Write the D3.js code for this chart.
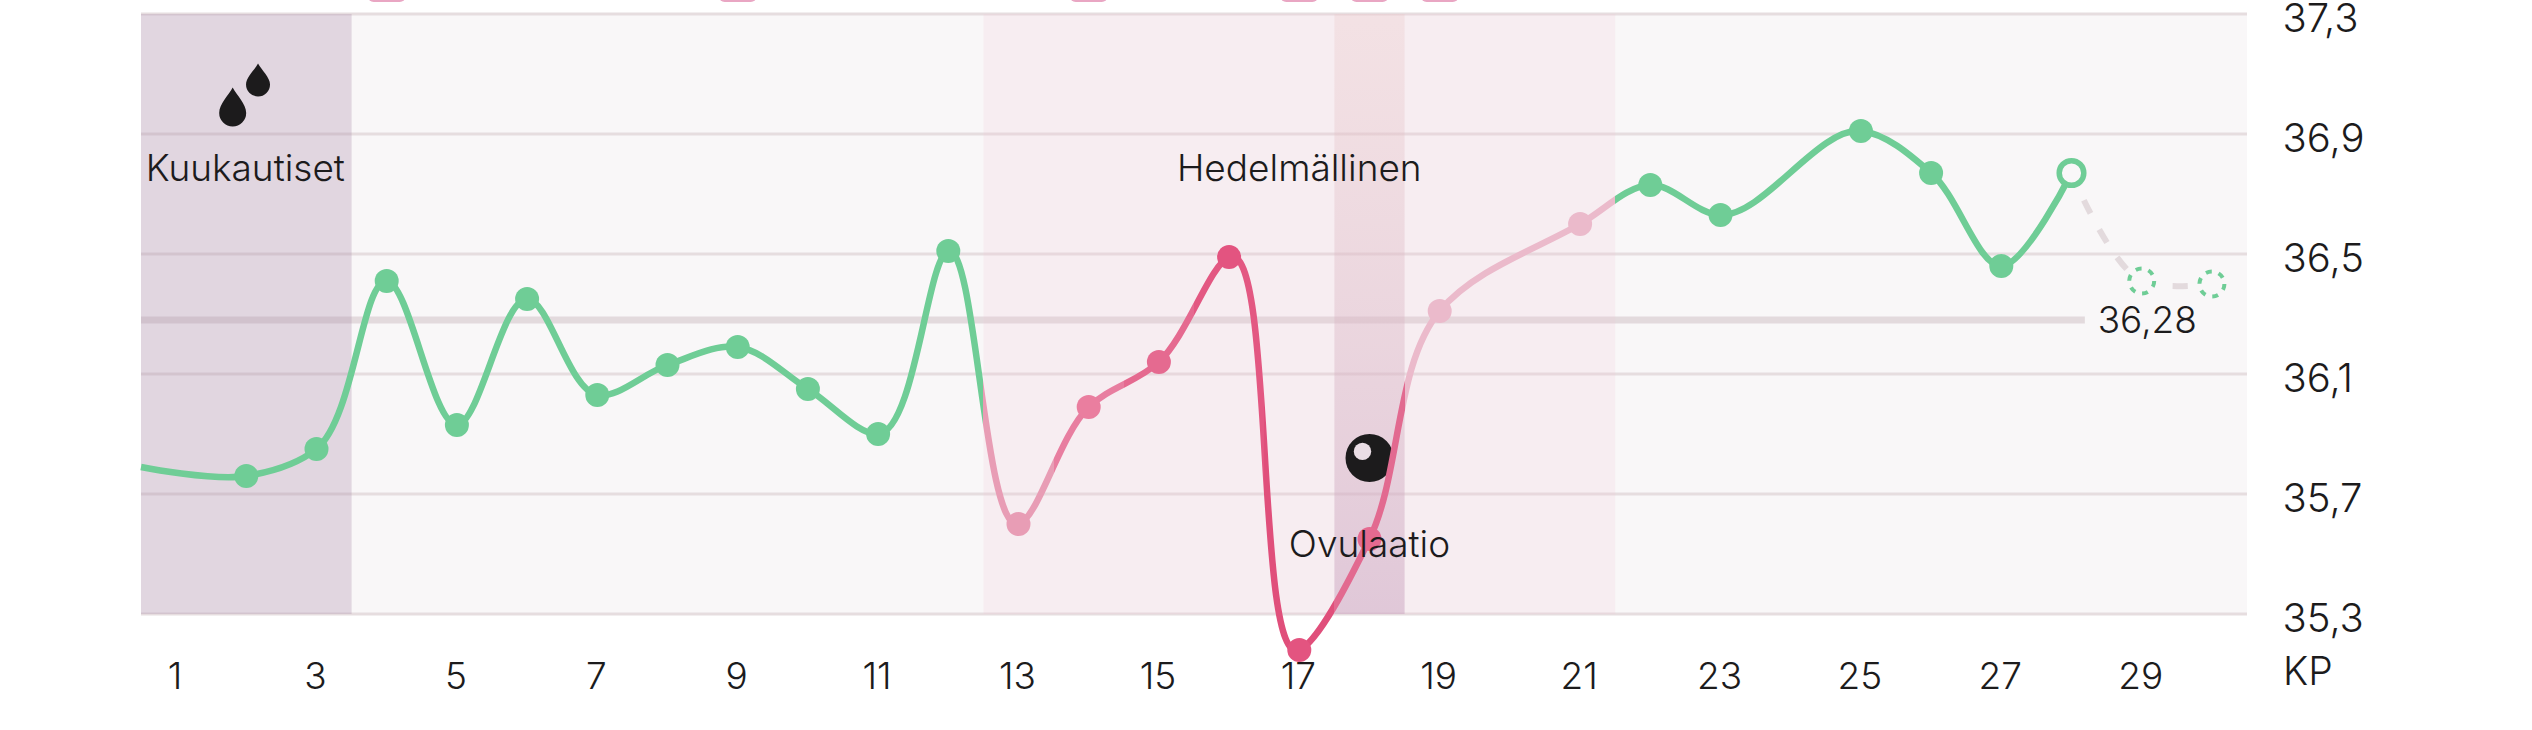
<!DOCTYPE html>
<html lang="fi">
<head>
<meta charset="utf-8">
<title>Peruslämpökäyrä</title>
<script src="https://cdn.jsdelivr.net/npm/d3@7"></script>
<style>
  html, body { margin: 0; background: #fff; }
  svg { display: block; }
  text { font-family: Inter, "Noto Sans", sans-serif; fill: #1c1b1c; font-weight: 300; }
</style>
</head>
<body>
<svg id="chart" width="2532" height="730"></svg>
<script>
// Cycle days with a recorded temperature
const recordedDays = [2, 3, 4, 5, 6, 7, 8, 9, 10, 11, 12, 13, 14, 15, 16, 17, 18, 19, 21, 22, 23, 25, 26, 27, 28];
const recordedTemps = [35.76, 35.85, 36.41, 35.93, 36.35, 36.03, 36.13, 36.19, 36.05, 35.90, 36.51, 35.60, 35.99, 36.14, 36.49, 35.18, 35.55, 36.31, 36.60, 36.73, 36.63, 36.91, 36.77, 36.46, 36.77];
const pointColours = ["g", "g", "g", "g", "g", "g", "g", "g", "g", "g", "g", "p1", "p2", "p3", "p4", "p4", "p3", "p0", "p0", "g", "g", "g", "g", "g", "today"];

// The trace enters the plot from the previous cycle
const entryDay = [0.5];
const entryTemp = [35.79];

// Forecast for the remaining days
const forecastDays = [28, 29, 30];
const forecastTemps = [36.77, 36.41, 36.40];

const coverline = [36.28];
const tempTicks = [37.3, 36.9, 36.5, 36.1, 35.7, 35.3];
const dayTicks = [1, 3, 5, 7, 9, 11, 13, 15, 17, 19, 21, 23, 25, 27, 29];
const flaggedDays = [4, 9, 14, 17, 18, 19];

// Phases, as [first day, last day]
const periodDays = [1, 3];
const fertileDays = [13, 21];
const ovulationDay = [18, 18];

// Trace colour per day band, keyed by the day where the colour begins
const bandStarts = [0.5, 12.5, 13.5, 14.5, 15.5, 16.5, 17.5, 18.5, 21.5];
const bandColours = ["#6fcd96", "#e89db5", "#e87ea0", "#e56a90", "#e35882", "#e04f7b", "#e26a90", "#ebbacb", "#6fcd96"];

const palette = { g: "#6fcd96", p0: "#ebbacb", p1: "#e89db5", p2: "#ea7e9f", p3: "#e56a90", p4: "#e35480", today: "#6fcd96" };

const svg = d3.select("#chart");
const x = d3.scaleLinear().domain([0.5, 30.5]).range([141, 2247]);
const y = d3.scaleLinear().domain([35.3, 37.3]).range([614, 14]);
const fmt = d3.formatLocale({ decimal: ",", thousands: " ", grouping: [3], currency: ["", "€"] });
const oneDecimal = fmt.format(".1f");
const twoDecimals = fmt.format(".2f");
const FONT = 37;

const defs = svg.append("defs");

// Hard colour stops along the x axis for the trace
const traceGrad = defs.append("linearGradient")
  .attr("id", "traceColour").attr("gradientUnits", "userSpaceOnUse")
  .attr("x1", x.range()[0]).attr("x2", x.range()[1]).attr("y1", 0).attr("y2", 0);
bandStarts.forEach((d, i) => {
  const from = (d - 0.5) / 30;
  const to = ((i + 1 < bandStarts.length ? bandStarts[i + 1] : 30.5) - 0.5) / 30;
  traceGrad.append("stop").attr("offset", from).attr("stop-color", bandColours[i]);
  traceGrad.append("stop").attr("offset", to).attr("stop-color", bandColours[i]);
});

const ovGrad = defs.append("linearGradient").attr("id", "ovulationFill")
  .attr("x1", 0).attr("x2", 0).attr("y1", 0).attr("y2", 1);
ovGrad.append("stop").attr("offset", 0).attr("stop-color", "#eac6c6").attr("stop-opacity", 0.3);
ovGrad.append("stop").attr("offset", 1).attr("stop-color", "#c9a2bf").attr("stop-opacity", 0.5);

// Plot background
svg.append("rect")
  .attr("x", x(0.5)).attr("y", y(37.3))
  .attr("width", x(30.5) - x(0.5)).attr("height", y(35.3) - y(37.3))
  .attr("fill", "#f9f7f8");

// Pills of the strip above the plot, cut by the top edge of the page
svg.append("g").selectAll("rect").data(flaggedDays).join("rect")
  .attr("x", d => x(d) - 19).attr("y", -30)
  .attr("width", 38).attr("height", 32).attr("rx", 6)
  .attr("fill", "#e9a6c3");

// Grid lines
svg.append("g").selectAll("line").data(tempTicks).join("line")
  .attr("x1", x(0.5)).attr("x2", x(30.5))
  .attr("y1", d => y(d)).attr("y2", d => y(d))
  .attr("stroke", "#e6dddf").attr("stroke-width", 3);

// Coverline
svg.append("line")
  .attr("x1", x(0.5)).attr("x2", x(28.19))
  .attr("y1", y(coverline[0])).attr("y2", y(coverline[0]))
  .attr("stroke", "#e3dadd").attr("stroke-width", 7);

// Phase bands
const band = ([a, b]) => ({ x: x(a - 0.5), w: x(b + 0.5) - x(a - 0.5), y: y(37.3), h: y(35.3) - y(37.3) });
[[periodDays, "#a98aaa", 0.3], [fertileDays, "#f0c8d5", 0.2], [ovulationDay, "url(#ovulationFill)", 1]]
  .forEach(([days, fill, op]) => {
    const b = band(days);
    svg.append("rect").attr("x", b.x).attr("y", b.y).attr("width", b.w).attr("height", b.h)
      .attr("fill", fill).attr("fill-opacity", op);
  });

// Temperature axis
const yAxis = svg.append("g").attr("transform", `translate(${x(30.5)},0)`)
  .call(d3.axisRight(y).tickValues(tempTicks).tickFormat(oneDecimal).tickSize(0).tickPadding(35.5));
yAxis.select(".domain").remove();
yAxis.selectAll("text").attr("dy", 17).attr("font-size", 40);
yAxis.attr("font-family", null);

// Cycle day axis
const xAxis = svg.append("g").attr("transform", "translate(-1.5,689)")
  .call(d3.axisBottom(x).tickValues(dayTicks).tickFormat(d3.format("d")).tickSize(0).tickPadding(0));
xAxis.select(".domain").remove();
xAxis.selectAll("text").attr("y", 0).attr("dy", 0).attr("font-size", FONT);
xAxis.attr("font-family", null);

svg.append("text").attr("x", x(30.5) + 36).attr("y", 685).attr("font-size", 39).text("KP");

// Ovulation icon
const ovX = x(ovulationDay[0]);
svg.append("circle").attr("cx", ovX).attr("cy", y(35.82)).attr("r", 24).attr("fill", "#1c1b1c");
svg.append("circle").attr("cx", ovX - 7).attr("cy", y(35.842)).attr("r", 8.7).attr("fill", "#eadde5");

// Period drops: tip at the origin, drawn downwards
const drop = (h, w) => {
  const r = w / 2;
  return `M0,0 C${-r * 0.3},${h * 0.2} ${-r},${h * 0.42} ${-r},${h - r}` +
    `A${r},${r} 0 0 0 ${r},${h - r} C${r},${h * 0.42} ${r * 0.3},${h * 0.2} 0,0Z`;
};
svg.append("path").attr("d", drop(33, 24)).attr("fill", "#1c1b1c")
  .attr("transform", `translate(${x(2.167)},${y(37.135)})`);
svg.append("path").attr("d", drop(39, 27)).attr("fill", "#1c1b1c")
  .attr("transform", `translate(${x(1.806)},${y(37.055)})`);

// Forecast trace
const line = d3.line().x(d => x(d[0])).y(d => y(d[1])).curve(d3.curveCatmullRom.alpha(0.75));
svg.append("path")
  .attr("d", line(d3.zip(forecastDays, forecastTemps)))
  .attr("fill", "none").attr("stroke", "#e3dadd").attr("stroke-width", 6)
  .attr("stroke-dasharray", "15 18").attr("stroke-dashoffset", -30);

// Recorded trace
const tracePoints = d3.zip(entryDay.concat(recordedDays), entryTemp.concat(recordedTemps));
svg.append("path")
  .attr("d", line(tracePoints))
  .attr("fill", "none").attr("stroke", "url(#traceColour)")
  .attr("stroke-width", 6.5).attr("stroke-linejoin", "round");

// Recorded points
svg.append("g").selectAll("circle").data(d3.zip(recordedDays, recordedTemps, pointColours)).join("circle")
  .attr("cx", d => x(d[0])).attr("cy", d => y(d[1]))
  .attr("r", d => d[2] === "today" ? 12.3 : 12)
  .attr("fill", d => d[2] === "today" ? "#f9f7f8" : palette[d[2]])
  .attr("stroke", d => d[2] === "today" ? palette.today : "none")
  .attr("stroke-width", d => d[2] === "today" ? 5.5 : 0);

// Forecast points
svg.append("g").selectAll("circle").data(d3.zip(forecastDays, forecastTemps).slice(1)).join("circle")
  .attr("cx", d => x(d[0])).attr("cy", d => y(d[1])).attr("r", 12.5)
  .attr("fill", "#f9f7f8").attr("stroke", "#6fcd96").attr("stroke-width", 4)
  .attr("stroke-dasharray", "6 7.1");

// Labels
const label = (tx, ty, t) => svg.append("text").attr("x", tx).attr("y", ty)
  .attr("text-anchor", "middle").attr("font-size", FONT).text(t);
label((x(0.5) + x(3.5)) / 2 - 1, 180.5, "Kuukautiset");
label((x(12.5) + x(21.5)) / 2, 180.5, "Hedelmällinen");
label(ovX, 557, "Ovulaatio");
label(x(29.08), y(coverline[0]) + 13, twoDecimals(coverline[0]));
</script>
</body>
</html>
